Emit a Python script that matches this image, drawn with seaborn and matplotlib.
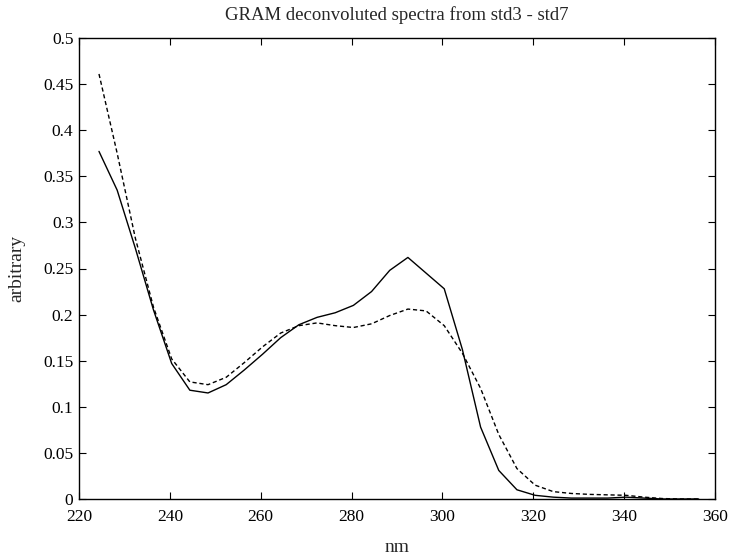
import numpy as np
import pandas as pd
import matplotlib
matplotlib.use("Agg")
import matplotlib.pyplot as plt
import seaborn as sns

wavelength = [224.4, 228.4, 232.4, 236.4, 240.4, 244.4, 248.4, 252.4, 256.4, 260.4,
              264.4, 268.4, 272.4, 276.4, 280.4, 284.4, 288.4, 292.4, 296.4, 300.4,
              304.4, 308.4, 312.4, 316.4, 320.4, 324.4, 328.4, 332.4, 336.4, 340.4,
              344.4, 348.4, 352.4, 356.4]
solid = [0.377, 0.335, 0.272, 0.205, 0.147, 0.118, 0.115, 0.124, 0.140, 0.157,
         0.175, 0.189, 0.197, 0.202, 0.210, 0.225, 0.248, 0.262, 0.245, 0.228,
         0.162, 0.078, 0.031, 0.010, 0.004, 0.002, 0.001, 0.001, 0.001, 0.002,
         0.001, 0.000, 0.000, 0.000]
dashed = [0.461, 0.375, 0.283, 0.208, 0.152, 0.127, 0.124, 0.132, 0.148, 0.165,
          0.180, 0.188, 0.191, 0.188, 0.186, 0.190, 0.199, 0.206, 0.204, 0.188,
          0.158, 0.120, 0.070, 0.033, 0.015, 0.008, 0.006, 0.005, 0.0045, 0.004,
          0.002, 0.0005, 0.000, 0.000]
series_names = ["spectrum 1", "spectrum 2"]
xticks = [220, 240, 260, 280, 300, 320, 340, 360]
yticks = [0, 0.05, 0.1, 0.15, 0.2, 0.25, 0.3, 0.35, 0.4, 0.45, 0.5]
ytick_labels = ["0", "0.05", "0.1", "0.15", "0.2", "0.25", "0.3", "0.35", "0.4", "0.45", "0.5"]

df = pd.DataFrame({
    "nm": wavelength * 2,
    "value": solid + dashed,
    "series": [series_names[0]] * len(solid) + [series_names[1]] * len(dashed),
})

sns.set_style("ticks")
plt.rcParams["font.family"] = ["Liberation Serif", "DejaVu Serif"]
plt.rcParams["xtick.direction"] = "in"
plt.rcParams["ytick.direction"] = "in"

fig = plt.figure(figsize=(7.31, 5.59), dpi=100)
ax = fig.add_axes([79 / 731, 1 - 499 / 559, (715 - 79) / 731, (499 - 38) / 559])

sns.lineplot(data=df, x="nm", y="value", hue="series", style="series",
             palette=["black", "black"], dashes=[(None, None), (3, 2)],
             linewidth=1.0, legend=False, ax=ax, sort=False)

ax.set_xlim(220, 360)
ax.set_ylim(0, 0.5)
ax.set_xticks(xticks)
ax.set_xticklabels([str(t) for t in xticks])
ax.set_yticks(yticks)
ax.set_yticklabels(ytick_labels)
ax.tick_params(axis="both", which="both", direction="in", top=True, right=True,
               labelsize=12.5, length=5, width=0.8, colors="black")
ax.tick_params(axis="x", pad=7)
ax.tick_params(axis="y", pad=4)
for s in ax.spines.values():
    s.set_visible(True)
    s.set_linewidth(1.0)
    s.set_color("black")

ax.set_xlabel("nm", fontsize=14, labelpad=10)
ax.set_ylabel("arbitrary", fontsize=14, labelpad=13)
ax.set_title("GRAM deconvoluted spectra from std3 - std7", fontsize=13.5, pad=13)

fig.savefig("out.png", dpi=100)
